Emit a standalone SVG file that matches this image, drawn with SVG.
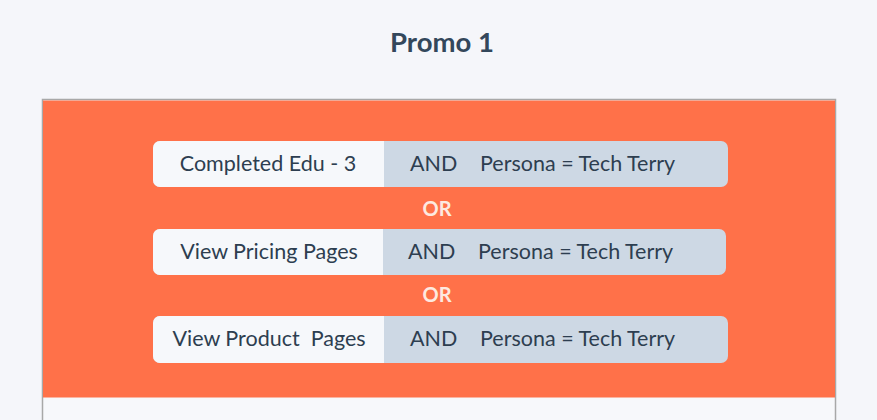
<svg xmlns="http://www.w3.org/2000/svg" width="877" height="420" viewBox="0 0 877 420">
<style>
.t{font-family:Lato,"Open Sans",sans-serif;font-size:21.5px;fill:#2d3e50}
.or{font-family:Lato,"Open Sans",sans-serif;font-size:20px;font-weight:bold;fill:#fde9e0;text-anchor:middle}
.w{fill:#f6f8fb}
.g{fill:#cdd8e4}
</style>
<rect width="877" height="420" fill="#f5f6fa"/>
<text x="442" y="52" text-anchor="middle" font-family="Lato,'Open Sans',sans-serif" font-size="27.5" font-weight="bold" fill="#33475b">Promo 1</text>
<g id="panel">
<rect x="42.5" y="99.5" width="793" height="330" fill="#f7f8fb" stroke="#a8a8a8" stroke-width="1.5"/>
<rect x="43" y="100.5" width="792" height="297" fill="#ff7149"/>
</g>
<g id="row1">
<rect class="g" x="153" y="141" width="575" height="46" rx="7"/>
<path class="w" d="M160 141H384V187H160A7 7 0 0 1 153 180V148A7 7 0 0 1 160 141Z"/>
<text class="t" x="268" y="171" text-anchor="middle">Completed Edu - 3</text>
<text class="t" x="410" y="171">AND</text>
<text class="t" x="480" y="171">Persona = Tech Terry</text>
</g>
<text class="or" x="437" y="216">OR</text>
<g id="row2">
<rect class="g" x="153" y="229" width="573" height="46" rx="7"/>
<path class="w" d="M160 229H383V275H160A7 7 0 0 1 153 268V236A7 7 0 0 1 160 229Z"/>
<text class="t" x="269" y="259" text-anchor="middle">View Pricing Pages</text>
<text class="t" x="408" y="259">AND</text>
<text class="t" x="478" y="259">Persona = Tech Terry</text>
</g>
<text class="or" x="437" y="302">OR</text>
<g id="row3">
<rect class="g" x="153" y="316" width="575" height="47" rx="7"/>
<path class="w" d="M160 316H384V363H160A7 7 0 0 1 153 356V323A7 7 0 0 1 160 316Z"/>
<text class="t" x="269" y="346" text-anchor="middle" xml:space="preserve">View Product  Pages</text>
<text class="t" x="410" y="346">AND</text>
<text class="t" x="480" y="346">Persona = Tech Terry</text>
</g>
</svg>
